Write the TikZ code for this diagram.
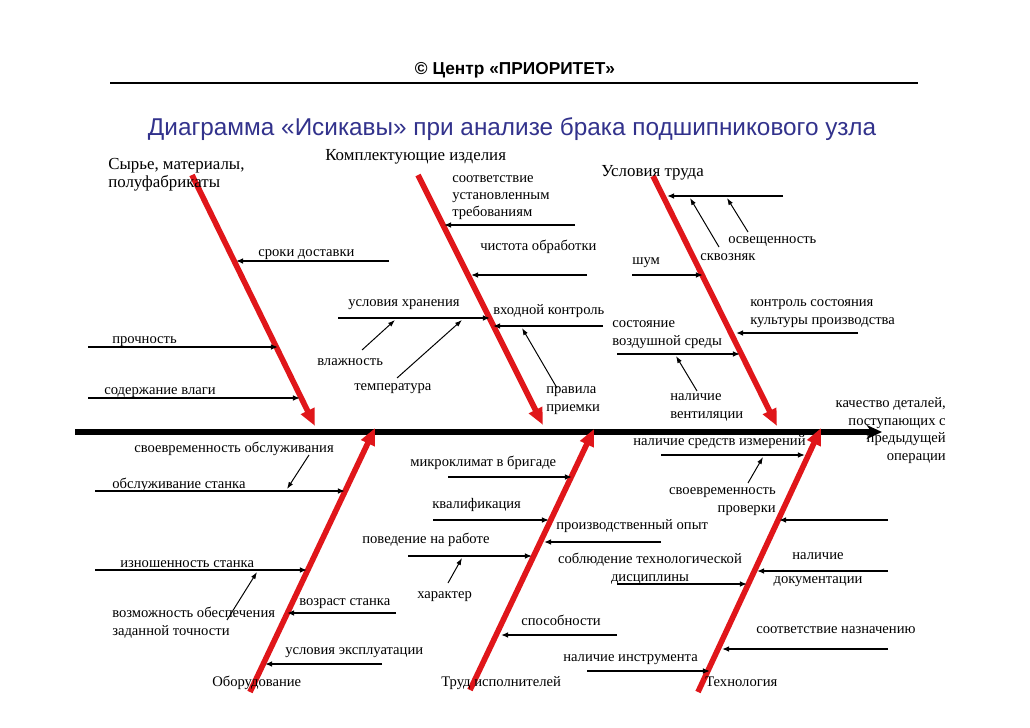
\documentclass[tikz,border=0pt]{standalone}
\usepackage{fontspec}
\setmainfont{Liberation Serif}
\newfontfamily\headfont{Liberation Sans}
\usetikzlibrary{arrows,arrows.meta}
\definecolor{bonered}{RGB}{224,22,26}
\definecolor{titleblue}{RGB}{50,50,140}
\tikzstyle{bone}=[draw=bonered,line width=4pt,-{Triangle[length=12pt,width=10pt]}]
\tikzstyle{spine}=[draw,line width=3.6pt,-{Stealth[length=11pt,width=10pt]}]
\tikzstyle{cause}=[draw,line width=1.4pt,-{Latex[length=5pt,width=4pt]}]
\tikzstyle{sub}=[draw,line width=0.7pt,-{Latex[length=5pt,width=3.5pt]}]
\tikzstyle{lbl}=[font=\fontsize{10.4}{12.4}\selectfont,inner sep=0pt,anchor=base west]
\tikzstyle{group}=[font=\fontsize{12}{13}\selectfont,inner sep=0pt,anchor=base west]

\begin{document}
\begin{tikzpicture}[x=0.025cm, y=-0.025cm]
	\fill[white] (0,0) rectangle (1030,728);
	\useasboundingbox (0,0) rectangle (1030,728);

	% Header and title
	\node[font=\headfont\bfseries\fontsize{12.3}{14}\selectfont] (firm) at (515,70) {© Центр «ПРИОРИТЕТ»};
	\coordinate (rulel) at (110,83);
	\coordinate (ruler) at (918,83);
	\draw[line width=2pt] (rulel) -- (ruler);
	\node[font=\headfont\fontsize{17.3}{20}\selectfont,text=titleblue] (title) at (512,129) {Диаграмма «Исикавы» при анализе брака подшипникового узла};

	% Spine
	\coordinate (head) at (75,432);
	\coordinate (tail) at (882,432);
	\path[spine] (head) -- (tail);
	\node[lbl,anchor=base east,align=right] (effect) at (946,460) {качество деталей,\\поступающих с\\предыдущей\\операции};

	% Main bones
	\foreach \b/\xs/\ys/\xe/\ye in {1/192/175/315/426, 2/418/175/543/425, 3/653/176/777/426,
	                                4/250/692/375/428, 5/470/690/594/429, 6/698/692/821/428}
	{
		\coordinate (bone\b s) at (\xs,\ys);
		\coordinate (bone\b e) at (\xe,\ye);
		\path[bone] (bone\b s) -- (bone\b e);
	}

	% Causes: outer end / tip at the bone / height
	\foreach \n/\xo/\xt/\y in {1/389/236/261, 2/88/278/347, 3/88/300/398,
	                           4/575/444/225, 5/587/471/275, 6/338/490/318, 7/603/493/326,
	                           8/783/667/196, 9/632/703/275, 10/858/736/333, 11/617/740/354,
	                           12/95/345/491, 13/95/307/570, 14/396/287/613, 15/382/265/664,
	                           16/448/572/477, 17/433/549/520, 18/661/544/542, 19/408/532/556,
	                           20/617/747/584, 21/617/501/635, 22/587/710/671,
	                           23/661/805/455, 24/888/779/520, 25/888/757/571, 26/888/722/649}
	{
		\coordinate (cause\n o) at (\xo,\y);
		\coordinate (cause\n t) at (\xt,\y);
		\path[cause] (cause\n o) -- (cause\n t);
	}

	% Sub-causes
	\foreach \n/\xo/\yo/\xt/\yt in {1/362/350/395/320, 2/397/378/462/320,
	                                3/557/388/522/328, 4/748/232/727/198,
	                                5/719/247/690/198, 6/697/391/676/356,
	                                7/309/455/287/489, 8/227/620/257/572,
	                                9/448/583/462/558, 10/748/483/763/457}
	{
		\coordinate (sub\n o) at (\xo,\yo);
		\coordinate (sub\n t) at (\xt,\yt);
		\path[sub] (sub\n o) -- (sub\n t);
	}

	% One-line labels
	\foreach \nm/\xl/\yl/\txt in {l1/258/256/сроки доставки, l2/112/343/прочность,
	                              l3/104/394/содержание влаги, l5/480/250/чистота обработки,
	                              l6/348/306/условия хранения, l7/493/314/входной контроль,
	                              l9/632/265/шум, l12/112/488/обслуживание станка,
	                              l13/120/567/изношенность станка, l14/299/605/возраст станка,
	                              l15/285/654/условия эксплуатации, l16/410/466/микроклимат в бригаде,
	                              l17/432/508/квалификация, l18/556/529/производственный опыт,
	                              l19/362/543/поведение на работе, l21/521/625/способности,
	                              l22/563/661/наличие инструмента, l23/633/445/наличие средств измерений,
	                              l26/756/633/соответствие назначению,
	                              m1/317/365/влажность, m2/354/390/температура,
	                              m4/728/243/освещенность, m5/700/260/сквозняк,
	                              m7/134/452/своевременность обслуживания, m9/417/598/характер}
	\node[lbl] (\nm) at (\xl,\yl) {\txt};

	% Labels on two or three lines (placed by their last line)
	\node[lbl,align=left] (l4) at (452,217) {соответствие\\установленным\\требованиям};
	\node[lbl,align=left] (l10) at (750,324) {контроль состояния\\культуры производства};
	\node[lbl,align=left] (l11) at (612,345) {состояние\\воздушной среды};
	\node[lbl,anchor=base,align=center] (l20) at (650,581) {соблюдение технологической\\дисциплины};
	\node[lbl,anchor=base,align=center] (l25) at (818,583) {наличие\\[4pt]документации};
	\node[lbl,align=left] (m3) at (546,411) {правила\\приемки};
	\node[lbl,align=left] (m6) at (670,418) {наличие\\вентиляции};
	\node[lbl,align=left] (m8) at (112,635) {возможность обеспечения\\заданной точности};
	\node[lbl,anchor=base east,align=right] (m10) at (776,512) {своевременность\\проверки};

	% Groups of causes
	\node[group,align=left] (raw) at (108,188) {Сырье, материалы,\\полуфабрикаты};
	\node[group] (parts) at (325,161) {Комплектующие изделия};
	\node[group] (work) at (601,177) {Условия труда};
	\foreach \nm/\xl/\txt in {equip/212/Оборудование, staff/441/Труд исполнителей, tech/705/Технология}
	\node[lbl] (\nm) at (\xl,686) {\txt};
\end{tikzpicture}
\end{document}
